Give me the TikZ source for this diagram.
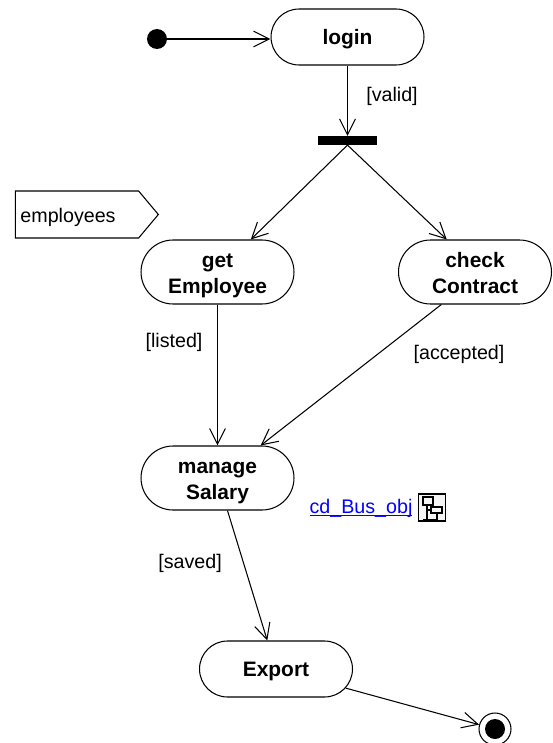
\documentclass[tikz,border=0pt]{standalone}
\usepackage{fontspec}
\setmainfont{Liberation Sans}
\usetikzlibrary{arrows.meta,shapes.misc,shapes.symbols}
\tikzset{
  activity/.style={rounded rectangle,draw=black,fill=white,line width=0.6pt,minimum width=3.06cm,minimum height=1.28cm,inner sep=0pt,align=center,text height=24pt,text depth=0pt,font=\fontsize{11.9}{14.4}\selectfont\bfseries},
  single/.style={activity,minimum height=1.12cm,text height=8.6pt},
  guard/.style={inner sep=0pt,font=\fontsize{11.2}{13}\selectfont},
  flow/.style={line width=0.6pt,-{Straight Barb[length=9pt,width=9pt,line width=0.6pt]}}
}
\begin{document}
\begin{tikzpicture}[x=0.02cm,y=-0.02cm]
\useasboundingbox (0,0) rectangle (552,743);

\node[circle,fill=black,inner sep=0pt,minimum size=0.4cm] (start) at (157,39) {};
\node[single] (login) at (347.5,37) {login};
\node[fill=black,inner sep=0pt,minimum width=1.18cm,minimum height=0.17cm] (fork) at (347.5,140.5) {};
\node[activity] (getEmployee) at (217.5,272) {get\\Employee};
\node[activity] (checkContract) at (475,272) {check\\Contract};
\node[activity] (manageSalary) at (217.5,478) {manage\\Salary};
\node[single] (export) at (276,669) {Export};
\node[circle,draw=black,fill=white,line width=0.6pt,inner sep=0pt,minimum size=0.64cm] (end) at (495,729) {};
\node[circle,fill=black,inner sep=0pt,minimum size=0.4cm] (endDot) at (495,729) {};

\node[signal,signal to=east,signal pointer angle=100,draw=black,line width=0.6pt,inner sep=0pt,minimum width=2.86cm,minimum height=0.94cm] (employees) at (77,214.5) {};
\node[guard] (employeesText) at (68,217) {employees};

\draw[flow] (start) -- (start -| login.west);
\draw[flow] (login.south) -- (fork.north);
\draw[flow] (fork.south) -- (getEmployee);
\draw[flow] (fork.south) -- (checkContract.131);
\draw[flow] (getEmployee.south) -- (manageSalary.north);
\draw[flow] (checkContract.224) -- (manageSalary.37);
\draw[flow] (manageSalary) -- (export);
\draw[flow] (export) -- (end);

\node[guard] (valid) at (392,96) {[valid]};
\node[guard] (listed) at (174,342) {[listed]};
\node[guard] (accepted) at (459,354) {[accepted]};
\node[guard] (saved) at (190,563) {[saved]};

\node[guard,text=blue,anchor=base] (busLink) at (361,513) {\underline{\smash{cd\_Bus\_obj}}};
\node[draw=black,fill=black!4,line width=1pt,inner sep=0pt,minimum size=0.54cm] (busIcon) at (432,507.5) {};
\draw[line width=0.7pt] (423,497) rectangle (433,505);
\draw[line width=0.7pt] (431,507) rectangle (442,513);
\draw[line width=0.7pt] (427,505) -- (427,520);
\draw[line width=0.7pt] (423,520) -- (437,520) -- (437,513);
\draw[line width=0.7pt] (427,510) -- (431,510);
\end{tikzpicture}
\end{document}
